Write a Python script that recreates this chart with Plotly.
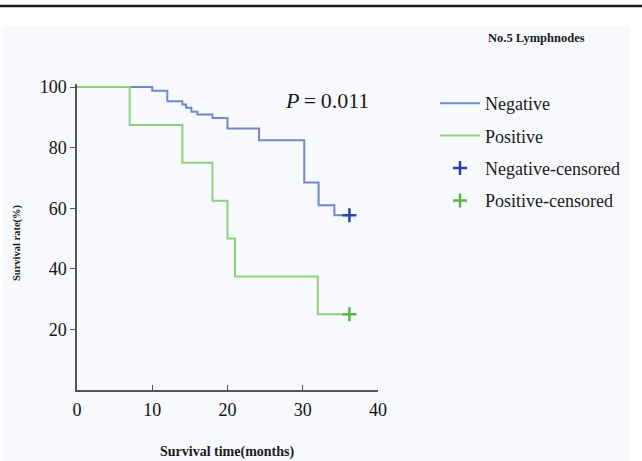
import plotly.graph_objects as go

# Kaplan-Meier step data
neg_time = [0, 10, 12, 14, 14.5, 15.2, 16, 18, 20, 24.2, 30.2, 32.1, 34.2, 36.2]
neg_surv = [100, 98.8, 95.3, 94.2, 93.2, 91.8, 90.9, 89.8, 86.3, 82.4, 68.5, 61.0, 57.7, 57.7]
pos_time = [0, 7, 14, 18, 20, 21, 32, 36.2]
pos_surv = [100, 87.5, 75.0, 62.5, 50.0, 37.5, 25.0, 25.0]
neg_cens_time = [36.2]
neg_cens_surv = [57.7]
pos_cens_time = [36.2]
pos_cens_surv = [25.0]

x_ticks = [0, 10, 20, 30, 40]
y_ticks = [20, 40, 60, 80, 100]

SERIF = "Liberation Serif, Times New Roman, serif"

fig = go.Figure()
fig.add_trace(go.Scatter(x=neg_time, y=neg_surv, mode="lines", line_shape="hv",
                         line=dict(color="#7088c8", width=2), name="Negative",
                         legendgroup="a"))
fig.add_trace(go.Scatter(x=pos_time, y=pos_surv, mode="lines", line_shape="hv",
                         line=dict(color="#8fd07c", width=2), name="Positive",
                         legendgroup="b"))
fig.add_trace(go.Scatter(x=neg_cens_time, y=neg_cens_surv, mode="markers",
                         marker=dict(symbol="cross-thin", size=10, color="#2b40a8",
                                     line=dict(color="#2b40a8", width=2.5)),
                         name="Negative-censored", cliponaxis=False, legendgroup="c"))
fig.add_trace(go.Scatter(x=pos_cens_time, y=pos_cens_surv, mode="markers",
                         marker=dict(symbol="cross-thin", size=10, color="#5cb347",
                                     line=dict(color="#5cb347", width=2.5)),
                         name="Positive-censored", cliponaxis=False, legendgroup="d"))

fig.update_layout(
    width=642, height=461,
    margin=dict(l=77, r=264, t=84, b=71),
    paper_bgcolor="white",
    plot_bgcolor="rgba(0,0,0,0)",
    showlegend=True,
    legend=dict(x=(435 - 77) / 301, y=(390 - 85) / 306, xanchor="left", yanchor="top",
                font=dict(family=SERIF, size=18, color="#1a1a1a"),
                bgcolor="rgba(0,0,0,0)", tracegroupgap=6, itemwidth=40),
    xaxis=dict(range=[0, 40], tickvals=x_ticks, ticks="inside", ticklen=5,
               tickcolor="#555", showline=True, linecolor="#555", linewidth=1.5,
               showgrid=False, zeroline=False,
               tickfont=dict(family=SERIF, size=18, color="#111"),
               ticklabelstandoff=3),
    yaxis=dict(range=[0, 101], tickvals=y_ticks, ticks="outside", ticklen=5,
               tickcolor="#555", showline=True, linecolor="#555", linewidth=1.5,
               showgrid=False, zeroline=False,
               tickfont=dict(family=SERIF, size=18, color="#111")),
    shapes=[
        dict(type="rect", xref="paper", yref="paper", layer="below",
             x0=(3 - 77) / 301, x1=(630 - 77) / 301,
             y0=(390 - 461) / 306, y1=(390 - 26) / 306,
             fillcolor="#f8f9fc", line=dict(width=0)),
        dict(type="line", xref="paper", yref="paper",
             x0=-77 / 301, x1=(642 - 77) / 301,
             y0=(390 - 6) / 306, y1=(390 - 6) / 306,
             line=dict(color="#1a1a1a", width=2.5)),
    ],
    annotations=[
        dict(text="<i>P</i>\u2009=\u20090.011", xref="paper", yref="paper",
             x=(327 - 77) / 301, y=(390 - 100) / 306, showarrow=False,
             xanchor="center", yanchor="middle",
             font=dict(family=SERIF, size=22, color="#1a1a1a")),
        dict(text="<b>No.5 Lymphnodes</b>", xref="paper", yref="paper",
             x=(536 - 77) / 301, y=(390 - 38) / 306, showarrow=False,
             xanchor="center", yanchor="middle",
             font=dict(family=SERIF, size=12.5, color="#1a1a1a")),
        dict(text="<b>Survival rate(%)</b>", xref="paper", yref="paper",
             x=(17 - 77) / 301, y=(390 - 243) / 306, showarrow=False,
             xanchor="center", yanchor="middle",
             textangle=-90, font=dict(family=SERIF, size=10.5, color="#1a1a1a")),
        dict(text="<b>Survival time(months)</b>", xref="paper", yref="paper",
             x=(227 - 77) / 301, y=(390 - 452) / 306, showarrow=False,
             xanchor="center", yanchor="middle",
             font=dict(family=SERIF, size=14, color="#1a1a1a")),
    ],
)

fig.write_html("out.html", config={"displayModeBar": False},
               post_script="document.body.style.margin='0';")
